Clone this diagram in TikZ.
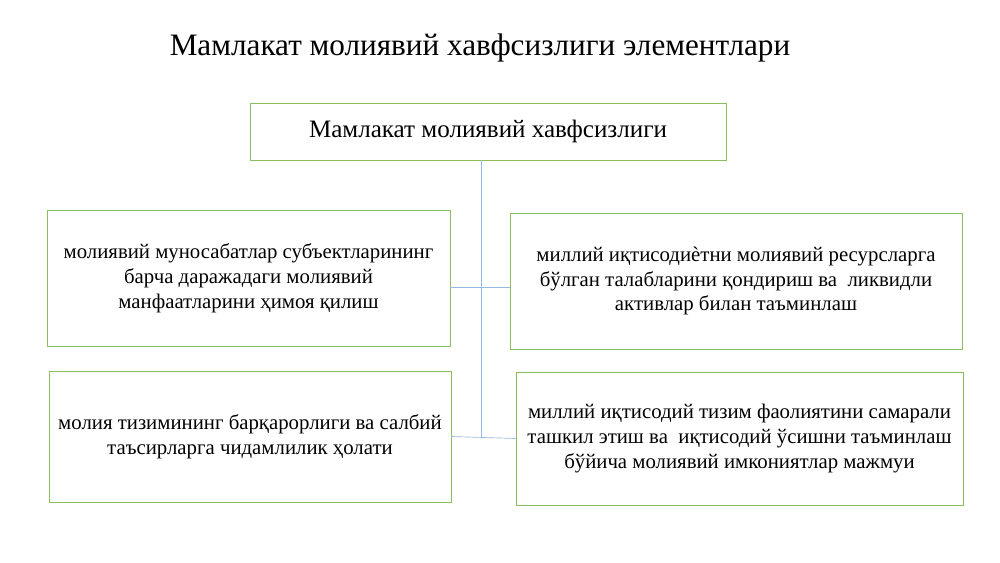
\documentclass[tikz,border=0pt]{standalone}
\usepackage{fontspec}
\setmainfont{Liberation Serif}
\usepackage{tikz}

\definecolor{boxgreen}{RGB}{140,190,95}
\definecolor{lineblue}{RGB}{150,185,225}

\tikzset{
  elembox/.style={draw=boxgreen, line width=0.6pt, rectangle, align=center, inner sep=2pt,
    font=\fontsize{15.6}{18.6}\selectfont},
  linkline/.style={draw=lineblue, line width=0.5pt}
}

\begin{document}
\begin{tikzpicture}[x=0.75pt,y=0.75pt,yscale=-1,xscale=1]
        \useasboundingbox (0,0) rectangle (1000,562);

        % Title
        \node [font=\fontsize{23.4}{28}\selectfont] (title) at (480,48) {Мамлакат молиявий хавфсизлиги элементлари};

        % Top box
        \node [elembox, font=\fontsize{18.8}{22}\selectfont, minimum width=357pt, minimum height=42.75pt] (top) at (488,131.5)
          {Мамлакат молиявий хавфсизлиги};

        % Left boxes
        \node [elembox, minimum width=302.25pt, minimum height=102pt] (lb1) at (248.5,278)
          {молиявий муносабатлар субъектларининг\\ барча даражадаги молиявий\\ манфаатларини ҳимоя қилиш};
        \node [elembox, minimum width=301.5pt, minimum height=98.25pt] (lb2) at (250,436.5)
          {молия тизимининг барқарорлиги ва салбий\\ таъсирларга чидамлилик ҳолати};

        % Right boxes
        \node [elembox, minimum width=339pt, minimum height=102pt] (rb1) at (736,281)
          {миллий иқтисодиѐтни молиявий ресурсларга\\ бўлган талабларини қондириш ва\ \ ликвидли\\ активлар билан таъминлаш};
        \node [elembox, minimum width=335.25pt, minimum height=99.75pt] (rb2) at (739.5,438.5)
          {миллий иқтисодий тизим фаолиятини самарали\\ ташкил этиш ва\ \ иқтисодий ўсишни таъминлаш\\ бўйича молиявий имкониятлар мажмуи};

        % Connectors
        \coordinate (hub) at (481,437);
        \coordinate (hubA) at (481,287);
        \draw [linkline] (hub |- top.south) -- (hub);
        \draw [linkline] (hubA -| lb1.east) -- (hubA -| rb1.west);
        \draw [linkline] (lb2.east) -- (rb2.west);

\end{tikzpicture}
\end{document}
